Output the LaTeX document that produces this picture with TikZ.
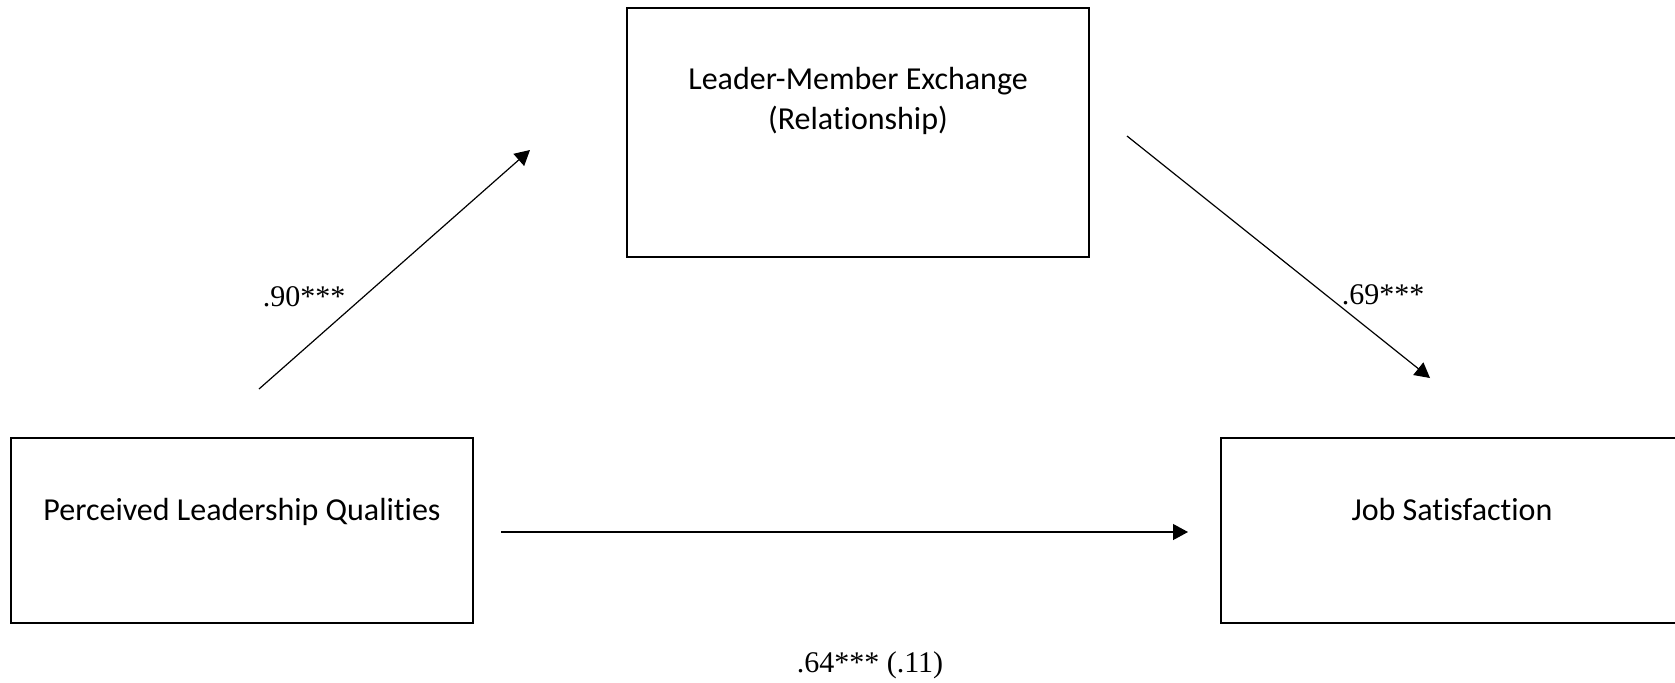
\documentclass[tikz,border=0pt]{standalone}
\usepackage{fontspec}
\setmainfont{Liberation Serif}
\newfontfamily\boxfont[Ligatures={NoCommon,NoDiscretionary}]{Carlito}
\usetikzlibrary{arrows.meta,positioning}

\begin{document}
\begin{tikzpicture}[x=0.5pt, y=-0.5pt,
    varbox/.style={draw, line width=0.7pt, minimum width=231pt, inner sep=0pt},
    boxtext/.style={anchor=north, align=center, inner sep=0pt,
        font=\boxfont\fontsize{16}{19.8}\selectfont},
    coef/.style={inner sep=0pt, font=\fontsize{15}{18}\selectfont},
    path/.style={line width=0.6pt, -{Triangle[length=7.5pt, width=8pt]}}]
    \useasboundingbox (0,0) rectangle (1675,682);
    % Variables
    \node[varbox, minimum height=124.5pt] (lmx) at (858,132.5) {};
    \node[varbox, minimum height=92.5pt] (plq) at (242,530.5) {};
    \node[varbox, minimum height=92.5pt] (js) at (1452,530.5) {};
    \node[boxtext] (lmxtext) at ([yshift=-30pt]lmx.north) {Leader-Member Exchange\\(Relationship)};
    \node[boxtext] (plqtext) at ([yshift=-30.5pt]plq.north) {Perceived Leadership Qualities};
    \node[boxtext] (jstext) at ([yshift=-30.5pt]js.north) {Job Satisfaction};
    % Path ends
    \coordinate (a1) at (259,389);
    \coordinate (a2) at (530,150);
    \coordinate (b1) at (1127,136);
    \coordinate (b2) at (1430,378);
    \coordinate (c1) at (501,532);
    \coordinate (c2) at (1188,532);
    \draw[path] (a1) -- (a2);
    \draw[path] (b1) -- (b2);
    \draw[path] (c1) -- (c2);
    % Coefficients
    \node[coef] (apath) at (304,297) {.90***};
    \node[coef] (bpath) at (1383,295) {.69***};
    \node[coef] (cpath) at (870,665) {.64*** (.11)};
\end{tikzpicture}
\end{document}
